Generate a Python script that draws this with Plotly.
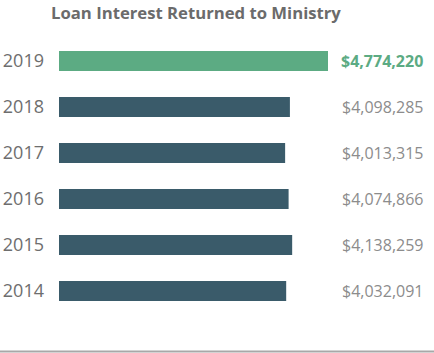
import plotly.graph_objects as go

years = ["2014", "2015", "2016", "2017", "2018", "2019"]
values = [4032091, 4138259, 4074866, 4013315, 4098285, 4774220]
labels = ["$4,032,091", "$4,138,259", "$4,074,866", "$4,013,315", "$4,098,285", "$4,774,220"]
highlight = "2019"

GREEN = "#5cab83"
SLATE = "#3a5b6a"
colors = [GREEN if y == highlight else SLATE for y in years]
FONT = "Open Sans"

fig = go.Figure(go.Bar(
    x=values, y=years, orientation="h",
    marker=dict(color=colors, line=dict(width=0)),
    width=0.435, hoverinfo="skip",
))

W, H = 434, 353
L, R, T, B = 59, 106, 38, 39
pw = W - L - R

for i, (y, v, lab) in enumerate(zip(years, values, labels)):
    hi = y == highlight
    fig.add_annotation(
        x=(425 - L) / pw, xref="paper", xanchor="right",
        y=i, yref="y", yanchor="middle",
        text=f"<b>{lab}</b>" if hi else lab, showarrow=False,
        font=dict(family=FONT, size=16, color=GREEN if hi else "#8c8c8c"),
    )

fig.add_annotation(
    x=(49 - L) / pw, xref="paper", xanchor="left",
    y=1 + (38 - 12) / (H - T - B), yref="paper", yanchor="middle",
    text="<b>Loan Interest Returned to Ministry</b>", showarrow=False,
    font=dict(family=FONT, size=16.7, color="#6b6b6b"),
)

fig.add_shape(type="line", xref="paper", yref="paper",
              x0=-L / pw, x1=(W - L) / pw,
              y0=-(B - 1.5) / (H - T - B), y1=-(B - 1.5) / (H - T - B),
              line=dict(color="#a8a8a8", width=2))

fig.update_layout(
    width=W, height=H,
    margin=dict(l=L, r=R, t=T, b=B, pad=0, autoexpand=False),
    paper_bgcolor="white", plot_bgcolor="white",
    showlegend=False,
    xaxis=dict(range=[0, max(values)], visible=False, fixedrange=True),
    yaxis=dict(type="category", categoryorder="array", categoryarray=years,
               range=[-0.5, 5.5], automargin=False,
               showgrid=False, showline=False, zeroline=False, ticks="",
               ticklabelstandoff=14,
               tickfont=dict(family=FONT, size=18, color="#6e6e6e"),
               fixedrange=True),
)

fig.write_html("out.html", config={"displayModeBar": False})
